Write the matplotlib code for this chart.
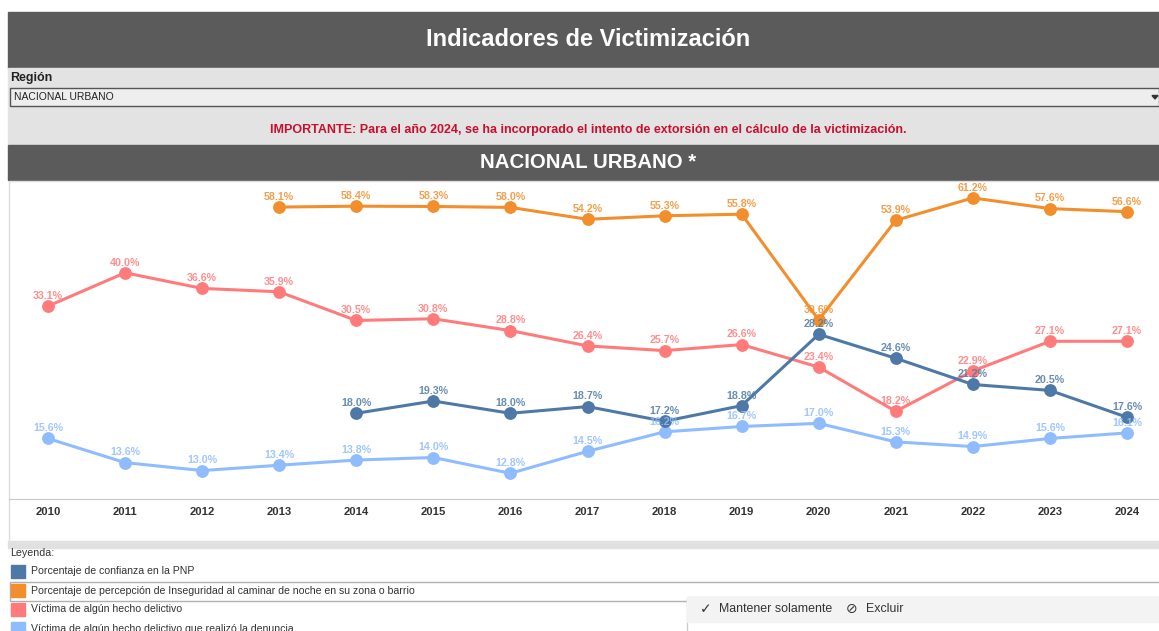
import matplotlib.pyplot as plt
from matplotlib.patches import Rectangle, Polygon

plt.rcParams['font.family'] = ['Liberation Sans', 'DejaVu Sans']

years = list(range(2010, 2025))

# porcentaje de confianza en la PNP (desde 2014)
pnp_years = list(range(2014, 2025))
pnp = [18.0, 19.3, 18.0, 18.7, 17.2, 18.8, 28.2, 24.6, 21.2, 20.5, 17.6]

# percepcion de inseguridad (desde 2013)
inseg_years = list(range(2013, 2025))
inseg = [58.1, 58.4, 58.3, 58.0, 54.2, 55.3, 55.8, 30.6, 53.9, 61.2, 57.6, 56.6]

victima = [33.1, 40.0, 36.6, 35.9, 30.5, 30.8, 28.8, 26.4, 25.7, 26.6, 23.4, 18.2, 22.9, 27.1, 27.1]
denuncia = [15.6, 13.6, 13.0, 13.4, 13.8, 14.0, 12.8, 14.5, 16.2, 16.7, 17.0, 15.3, 14.9, 15.6, 16.1]

legend_labels = [
    'Porcentaje de confianza en la PNP',
    'Porcentaje de percepción de Inseguridad al caminar de noche en su zona o barrio',
    'Víctima de algún hecho delictivo',
    'Víctima de algún hecho delictivo que realizó la denuncia',
]
colors = ['#4e79a7', '#f28e2b', '#ff7b7b', '#8fbcff']

W, H = 1159, 631
fig = plt.figure(figsize=(W / 100, H / 100), dpi=100)
fig.patch.set_facecolor('white')

# fondo en coordenadas de pixel
bg = fig.add_axes([0, 0, 1, 1])
bg.set_xlim(0, W)
bg.set_ylim(H, 0)
bg.axis('off')

dark = '#5b5b5c'
bg.add_patch(Rectangle((8, 12), W - 8, 56, color=dark))
bg.text(588, 39, 'Indicadores de Victimización', color='white', fontsize=17,
        fontweight='bold', ha='center', va='center')

bg.add_patch(Rectangle((8, 68), W - 8, 77, color='#e3e3e3'))
bg.text(10, 78, 'Región', fontsize=9, fontweight='bold', color='#222222', va='center')
bg.add_patch(Rectangle((10, 88), W - 10, 18, facecolor='#eeeeee', edgecolor='#555555', lw=1))
bg.text(14, 97, 'NACIONAL URBANO', fontsize=7.5, color='#222222', va='center')
bg.add_patch(Polygon([[1152, 95.5], [1158, 95.5], [1155, 99]], color='#333333'))
bg.text(588, 130, 'IMPORTANTE: Para el año 2024, se ha incorporado el intento de extorsión '
        'en el cálculo de la victimización.', fontsize=9, fontweight='bold',
        color='#c8102e', ha='center', va='center')

bg.add_patch(Rectangle((8, 145), W - 8, 35, color=dark))
bg.text(588, 162, 'NACIONAL URBANO *', color='white', fontsize=14.7,
        fontweight='bold', ha='center', va='center')

bg.add_patch(Rectangle((8.5, 180.5), W - 8, 361, facecolor='white', edgecolor='#dcdcdc', lw=1))
bg.add_patch(Rectangle((8, 541), W - 8, 7, color='#e0e0e0'))

# leyenda
bg.text(10, 553, 'Leyenda:', fontsize=7.7, color='#333333', va='center')
bg.add_patch(Rectangle((9.5, 581.5), W - 9, 19, facecolor='white', edgecolor='#b0b0b0', lw=1))
for i, (lab, c) in enumerate(zip(legend_labels, colors)):
    yc = 571.5 + 19 * i
    bg.add_patch(Rectangle((11, yc - 7), 14, 13, color=c))
    bg.text(31, yc, lab, fontsize=7.6, color='#333333', va='center')

# menu contextual
bg.add_patch(Rectangle((686.5, 596.5), W - 686, 40, facecolor='white', edgecolor='#cccccc', lw=1))
bg.add_patch(Rectangle((687, 597), W - 687, 25, color='#f3f3f3'))
bg.text(700, 609, '✓', fontsize=10, color='#333333', va='center')
bg.text(719, 609, 'Mantener solamente', fontsize=8.9, color='#333333', va='center')
bg.text(846, 609, '⊘', fontsize=10, color='#333333', va='center')
bg.text(866, 609, 'Excluir', fontsize=8.9, color='#333333', va='center')

# grafico
ax = fig.add_axes([9 / W, (H - 499) / H, (W - 9) / W, (499 - 182) / H])
ax.set_facecolor('none')
ax.set_yscale('log')
ax.set_ylim(11.06, 67.0)
ax.set_xlim(2009.494, 2024.415)
ax.minorticks_off()
ax.set_yticks([])
for s in ['top', 'left', 'right']:
    ax.spines[s].set_visible(False)
ax.spines['bottom'].set_color('#c8c8c8')
ax.set_xticks(years)
ax.set_xticklabels([str(y) for y in years], fontsize=8.1, fontweight='bold', color='#333333')
ax.tick_params(axis='x', length=0, pad=5.5)

series = [
    (years, denuncia, colors[3]),
    (years, victima, colors[2]),
    (inseg_years, inseg, colors[1]),
    (pnp_years, pnp, colors[0]),
]
for xs, vs, c in series:
    ax.plot(xs, vs, color=c, lw=2.2, marker='o', markersize=8.2, zorder=3)
    for x, v in zip(xs, vs):
        ax.annotate(f'{v:.1f}%', (x, v), xytext=(0, 7.3), textcoords='offset points',
                    ha='center', va='center', fontsize=7.7, fontweight='bold',
                    color=c, alpha=0.85, zorder=4)

fig.savefig('out.png', dpi=100)
